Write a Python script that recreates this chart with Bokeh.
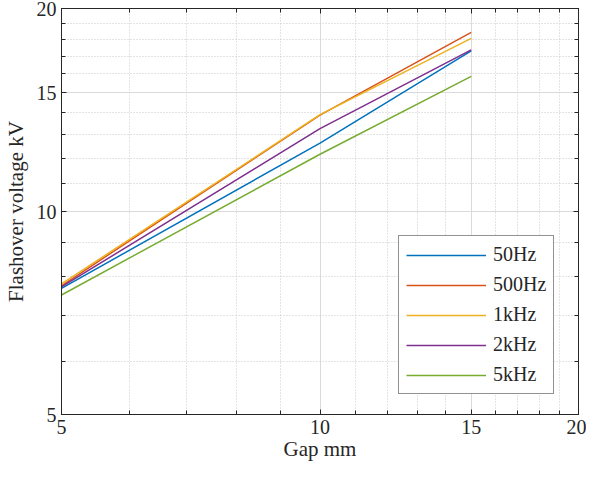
from bokeh.plotting import figure
from bokeh.models import Range1d, FixedTicker, LogAxis, NumeralTickFormatter, Legend, LegendItem, Title
from bokeh.embed import file_html
from bokeh.resources import INLINE

gap = [5, 10, 15]
v_50hz = [7.69, 12.63, 17.30]
v_500hz = [7.76, 13.90, 18.43]
v_1khz = [7.81, 13.92, 18.06]
v_2khz = [7.73, 13.27, 17.36]
v_5khz = [7.52, 12.16, 15.86]
series_names = ["50Hz", "500Hz", "1kHz", "2kHz", "5kHz"]
colors = ["#0072BD", "#D95319", "#EDB120", "#7E2F8E", "#77AC30"]
major_ticks = [5, 10, 15, 20]
minor_ticks = [6, 7, 8, 9, 11, 12, 13, 14, 16, 17, 18, 19]

FONT = "Liberation Serif"
DARK = "#262626"

p = figure(frame_width=517, frame_height=406, x_axis_type="log", y_axis_type="log",
           x_range=Range1d(5, 20), y_range=Range1d(5, 20),
           output_backend="svg", toolbar_location=None,
           min_border_left=55, min_border_right=8, min_border_top=5, min_border_bottom=10)

p.outline_line_color = DARK
p.outline_line_width = 1
p.background_fill_color = "white"
p.border_fill_color = "white"

def style_axis(ax, show_labels=True):
    ax.ticker = FixedTicker(ticks=major_ticks, minor_ticks=minor_ticks)
    ax.formatter = NumeralTickFormatter(format="0")
    ax.axis_line_color = DARK
    ax.major_tick_line_color = DARK
    ax.minor_tick_line_color = DARK
    ax.major_tick_in = 5
    ax.major_tick_out = 0
    ax.minor_tick_in = 4
    ax.minor_tick_out = 0
    ax.major_label_text_font = FONT
    ax.major_label_text_font_size = "20px"
    ax.major_label_text_color = DARK
    ax.major_label_text_alpha = 1.0 if show_labels else 0.0
    ax.axis_label_text_font = FONT
    ax.axis_label_text_font_size = "21px"
    ax.axis_label_text_font_style = "normal"
    ax.axis_label_text_color = DARK

for ax in p.xaxis:
    style_axis(ax)
    ax.axis_label = "Gap mm"
    ax.major_label_standoff = 5
    ax.axis_label_standoff = 0
for ax in p.yaxis:
    style_axis(ax)
    ax.axis_label = "Flashover voltage kV"
    ax.major_label_standoff = 5
    ax.axis_label_standoff = 6

top = LogAxis()
style_axis(top, show_labels=False)
top.major_label_text_font_size = "6px"
top.major_label_standoff = 0
p.add_layout(top, "above")
right = LogAxis()
style_axis(right, show_labels=False)
right.major_label_text_font_size = "1px"
right.major_label_standoff = 0
p.add_layout(right, "right")

spacer = Title(text="\u00a0", text_font_size="6px", standoff=0)
p.add_layout(spacer, "above")

for g in p.grid:
    g.ticker = FixedTicker(ticks=major_ticks, minor_ticks=minor_ticks)
    g.grid_line_color = "#dadada"
    g.grid_line_width = 1
    g.minor_grid_line_color = "#c8c8c8"
    g.minor_grid_line_dash = "1 2"
    g.minor_grid_line_width = 1

all_vals = [v_50hz, v_500hz, v_1khz, v_2khz, v_5khz]
items = []
for name, vals, c in zip(series_names, all_vals, colors):
    r = p.line(gap, vals, line_color=c, line_width=1.5)
    items.append(LegendItem(label=name, renderers=[r]))

legend = Legend(items=items, location=(337, 20))
legend.label_text_font = FONT
legend.label_text_font_size = "20px"
legend.label_text_color = DARK
legend.glyph_width = 80
legend.glyph_height = 20
legend.label_height = 20
legend.label_standoff = 7
legend.spacing = 7
legend.padding = 7
legend.margin = 0
legend.border_line_color = DARK
legend.border_line_width = 1
legend.background_fill_alpha = 1
p.add_layout(legend, "center")

open("out.html", "w").write(file_html(p, INLINE))
